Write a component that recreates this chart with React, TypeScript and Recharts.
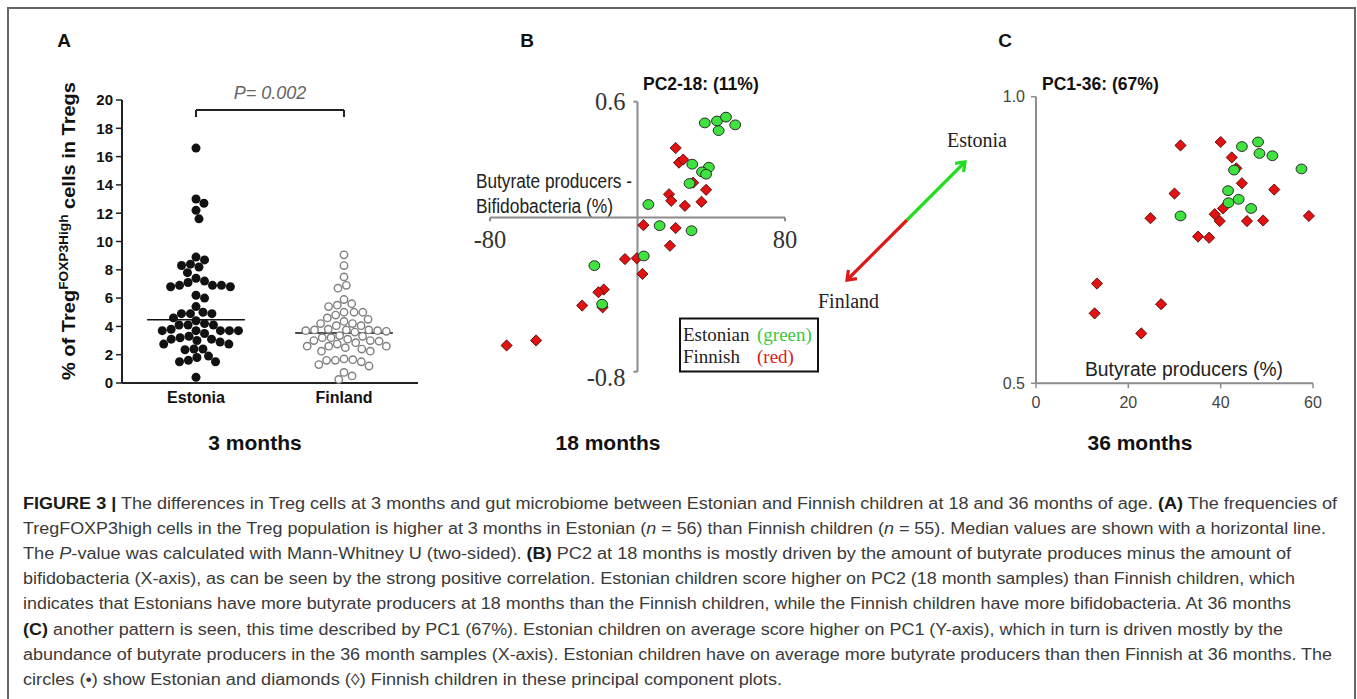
import { ScatterChart, Scatter, XAxis, YAxis, ReferenceLine, ReferenceDot } from "recharts";

// A: % of Treg FOXP3high cells at 3 months
const groups3m = ["Estonia", "Finland"];
const estonia3m = [16.6, 13.0, 12.7, 12.2, 11.6, 8.9, 8.7, 8.4, 8.3, 8.2, 7.8, 7.4, 7.2, 7.1, 6.9, 6.9, 6.9, 6.8, 6.8, 6.2, 6.0, 5.4, 5.0, 4.9, 4.9, 4.9, 4.6, 4.4, 4.2, 4.1, 4.1, 4.1, 3.8, 3.7, 3.7, 3.7, 3.7, 3.7, 3.5, 3.3, 3.2, 3.1, 3.1, 3.0, 2.9, 2.75, 2.75, 2.4, 2.4, 2.35, 1.9, 1.8, 1.6, 1.5, 1.5, 0.4];
const finland3m = [9.06, 8.3, 7.5, 6.9, 6.7, 5.9, 5.6, 5.5, 5.4, 5.0, 5.0, 5.0, 4.8, 4.6, 4.5, 4.35, 4.2, 4.2, 4.05, 4.05, 3.8, 3.75, 3.75, 3.75, 3.7, 3.7, 3.65, 3.6, 3.35, 3.3, 3.2, 3.2, 3.1, 3.0, 3.0, 2.95, 2.85, 2.75, 2.6, 2.6, 2.6, 2.5, 2.4, 2.25, 2.25, 1.7, 1.65, 1.6, 1.6, 1.5, 1.3, 1.2, 0.75, 0.5, 0.25];
const medians3m = [4.47, 3.53];
const ticks3m = [0, 2, 4, 6, 8, 10, 12, 14, 16, 18, 20];
const pValue = "P= 0.002";

// B: PC2 at 18 months vs butyrate producers - bifidobacteria (%)
const est18 = [[36.5, 0.49], [43.1, 0.5], [48, 0.52], [44, 0.45], [53, 0.48], [29.7, 0.276], [38.7, 0.26], [35, 0.236], [37.2, 0.224], [28.2, 0.176], [5.9, 0.067], [12, -0.043], [29.3, -0.069], [3.4, -0.2], [-23.4, -0.25], [-19.2, -0.45]];
const fin18 = [[20.7, 0.36], [22.5, 0.284], [24.8, 0.3], [30.2, 0.18], [37.2, 0.143], [17.1, 0.12], [18.3, 0.086], [25.7, 0.06], [34.7, 0.081], [3.2, -0.04], [20.7, -0.055], [17.6, -0.147], [-6.8, -0.216], [-0.4, -0.212], [2.7, -0.293], [-18.3, -0.374], [-21.2, -0.388], [-18.9, -0.466], [-30, -0.457], [-55, -0.638], [-71, -0.664]];

// C: PC1 at 36 months vs butyrate producers (%)
const est36 = [[48.1, 0.921], [44.6, 0.913], [48.4, 0.901], [51.2, 0.897], [42.9, 0.872], [57.5, 0.874], [41.6, 0.836], [43.9, 0.821], [41.7, 0.815], [46.6, 0.805], [31.3, 0.792]];
const fin36 = [[40, 0.921], [31.3, 0.915], [42.4, 0.894], [43.4, 0.875], [44.6, 0.849], [51.6, 0.838], [30, 0.831], [40.5, 0.805], [38.7, 0.795], [24.8, 0.788], [39.8, 0.783], [45.7, 0.783], [49.2, 0.784], [59.1, 0.792], [35.1, 0.756], [37.5, 0.754], [13.2, 0.674], [27.1, 0.638], [12.7, 0.622], [22.8, 0.587]];
const xTicks36 = [0, 20, 40, 60];
const yTicks36 = [0.5, 1.0];

const caption: [string, string][][] = [
  [["b", "FIGURE 3 |"], ["", " The differences in Treg cells at 3 months and gut microbiome between Estonian and Finnish children at 18 and 36 months of age. "], ["b", "(A)"], ["", " The frequencies of"]],
  [["", "TregFOXP3high cells in the Treg population is higher at 3 months in Estonian ("], ["i", "n"], ["", " = 56) than Finnish children ("], ["i", "n"], ["", " = 55). Median values are shown with a horizontal line."]],
  [["", "The "], ["i", "P"], ["", "-value was calculated with Mann-Whitney U (two-sided). "], ["b", "(B)"], ["", " PC2 at 18 months is mostly driven by the amount of butyrate produces minus the amount of"]],
  [["", "bifidobacteria (X-axis), as can be seen by the strong positive correlation. Estonian children score higher on PC2 (18 month samples) than Finnish children, which"]],
  [["", "indicates that Estonians have more butyrate producers at 18 months than the Finnish children, while the Finnish children have more bifidobacteria. At 36 months"]],
  [["b", "(C)"], ["", " another pattern is seen, this time described by PC1 (67%). Estonian children on average score higher on PC1 (Y-axis), which in turn is driven mostly by the"]],
  [["", "abundance of butyrate producers in the 36 month samples (X-axis). Estonian children have on average more butyrate producers than then Finnish at 36 months. The"]],
  [["", "circles (\u2022) show Estonian and diamonds (\u25CA) Finnish children in these principal component plots."]],
];
const captionEnds = [1337, 1326, 1291, 1295, 1291, 1283, 1332, 782];

const SANS = "'Liberation Sans', Arial, sans-serif";
const SERIF = "'Liberation Serif', 'Times New Roman', serif";

// simple beeswarm: offsets in x data units
function swarm(values: number[], pxPerX: number, pxPerY: number, diam: number) {
  const placed: { x: number; y: number }[] = [];
  const out: number[] = new Array(values.length).fill(0);
  const order = values.map((_, i) => i).sort((a, b) => values[b] - values[a]);
  for (const i of order) {
    const y = values[i] * pxPerY;
    const near = placed.filter((p) => Math.abs(p.y - y) < diam);
    const cands = [0];
    near.forEach((p) => {
      const dx = Math.sqrt(diam * diam - (p.y - y) ** 2);
      cands.push(p.x + dx, p.x - dx);
    });
    cands.sort((a, b) => Math.abs(a) - Math.abs(b));
    const x = cands.find((c) => near.every((p) => (p.x - c) ** 2 + (p.y - y) ** 2 >= diam * diam - 0.01)) ?? 0;
    placed.push({ x, y });
    out[i] = x / pxPerX;
  }
  return out;
}

const pxX = 296 / 2;
const pxY = 283 / 20;
const estOff = swarm(estonia3m, pxX, pxY, 9);
const finOff = swarm(finland3m, pxX, pxY, 8.8);
const estData3 = estonia3m.map((v, i) => ({ x: 1 + estOff[i], y: v }));
const finData3 = finland3m.map((v, i) => ({ x: 2 + finOff[i], y: v }));
const toXY = (a: number[][]) => a.map(([x, y]) => ({ x, y }));

const blackDot = (p: any) => <circle cx={p.cx} cy={p.cy} r={4.5} fill="#111" />;
const openDot = (p: any) => <circle cx={p.cx} cy={p.cy} r={3.7} fill="#fff" stroke="#808080" strokeWidth={1.4} />;
const greenDot = (p: any) => <ellipse cx={p.cx} cy={p.cy} rx={5.4} ry={4.9} fill="#3fe23f" stroke="#2b2b2b" strokeWidth={1} />;
const redDiamond = (p: any) => {
  const s = 5.6;
  return <polygon points={`${p.cx},${p.cy - s} ${p.cx + s},${p.cy} ${p.cx},${p.cy + s} ${p.cx - s},${p.cy}`} fill="#e21212" stroke="#3a0000" strokeWidth={0.8} />;
};

const tickLabel = (text: string, dx: number, dy: number, anchor: string) => ({
  content: ({ viewBox }: any) => (
    <text x={viewBox.x + dx} y={viewBox.y + dy} textAnchor={anchor} dominantBaseline="central" fontFamily={SERIF} fontSize={24.5} fill="#333">
      {text}
    </text>
  ),
});

const axisGray = "#8c8c8c";

function PanelA() {
  return (
    <ScatterChart width={440} height={420} margin={{ top: 100, right: 22, bottom: 7, left: 82 }}>
      <XAxis type="number" dataKey="x" domain={[0.5, 2.5]} ticks={[1, 2]} tickFormatter={(v) => groups3m[v - 1]} tickLine={false} tickSize={6} tickMargin={3}
        axisLine={{ stroke: "#222", strokeWidth: 2 }} tick={{ fontSize: 16, fontWeight: 700, fill: "#111", fontFamily: SANS }} height={30} />
      <YAxis type="number" dataKey="y" domain={[0, 20]} ticks={ticks3m} interval={0} width={40} tickSize={6} tickMargin={3}
        axisLine={{ stroke: "#222", strokeWidth: 2 }} tickLine={{ stroke: "#222", strokeWidth: 1.5 }} tick={{ fontSize: 15, fontWeight: 700, fill: "#111", fontFamily: SANS }} />
      <Scatter data={estData3} shape={blackDot} isAnimationActive={false} />
      <Scatter data={finData3} shape={openDot} isAnimationActive={false} />
      {medians3m.map((m, i) => (
        <ReferenceLine key={i} segment={[{ x: i + 1 - 0.33, y: m }, { x: i + 1 + 0.33, y: m }]} stroke="#111" strokeWidth={1.5} />
      ))}
      <ReferenceLine segment={[{ x: 1, y: 19.3 }, { x: 2, y: 19.3 }]} stroke="#222" strokeWidth={2} />
      <ReferenceLine segment={[{ x: 1, y: 18.8 }, { x: 1, y: 19.3 }]} stroke="#222" strokeWidth={2} />
      <ReferenceLine segment={[{ x: 2, y: 18.8 }, { x: 2, y: 19.3 }]} stroke="#222" strokeWidth={2} />
      <ReferenceDot x={1.5} y={19.3} r={0} fill="none" stroke="none"
        label={{
          content: ({ viewBox }: any) => (
            <text x={viewBox.x} y={viewBox.y - 11} textAnchor="middle" fontFamily={SANS} fontStyle="italic" fontSize={18} fill="#666">{pValue}</text>
          ),
        }} />
    </ScatterChart>
  );
}

function PanelB() {
  return (
    <ScatterChart width={380} height={340} margin={{ top: 41.7, right: 35, bottom: 28.3, left: 50 }}>
      <XAxis type="number" dataKey="x" domain={[-80, 80]} hide height={0} />
      <YAxis type="number" dataKey="y" domain={[-0.8, 0.6]} hide width={0} />
      <ReferenceLine segment={[{ x: -80, y: 0 }, { x: 80, y: 0 }]} stroke={axisGray} strokeWidth={2} />
      <ReferenceLine segment={[{ x: 0, y: -0.8 }, { x: 0, y: 0.6 }]} stroke={axisGray} strokeWidth={2} />
      <ReferenceLine segment={[{ x: -80, y: 0 }, { x: -80, y: -0.02 }]} stroke={axisGray} strokeWidth={2} />
      <ReferenceLine segment={[{ x: 80, y: 0 }, { x: 80, y: -0.02 }]} stroke={axisGray} strokeWidth={2} />
      <ReferenceLine segment={[{ x: 0, y: 0.6 }, { x: -2.2, y: 0.6 }]} stroke={axisGray} strokeWidth={2} />
      <ReferenceLine segment={[{ x: 0, y: -0.8 }, { x: -2.2, y: -0.8 }]} stroke={axisGray} strokeWidth={2} />
      <ReferenceDot x={-80} y={0} r={0} fill="none" stroke="none" label={tickLabel("-80", 0, 22, "middle")} />
      <ReferenceDot x={80} y={0} r={0} fill="none" stroke="none" label={tickLabel("80", 0, 22, "middle")} />
      <ReferenceDot x={0} y={0.6} r={0} fill="none" stroke="none" label={tickLabel("0.6", -12, 0, "end")} />
      <ReferenceDot x={0} y={-0.8} r={0} fill="none" stroke="none" label={tickLabel("-0.8", -12, 6, "end")} />
      <Scatter data={toXY(fin18)} shape={redDiamond} isAnimationActive={false} />
      <Scatter data={toXY(est18)} shape={greenDot} isAnimationActive={false} />
    </ScatterChart>
  );
}

function PanelC() {
  const tickStyle = { fontSize: 16, fill: "#444", fontFamily: SANS };
  return (
    <ScatterChart width={380} height={360} margin={{ top: 36.7, right: 27, bottom: 6.7, left: 16 }}>
      <XAxis type="number" dataKey="x" domain={[0, 60]} ticks={xTicks36} interval={0} height={30} tickSize={5} tickMargin={8}
        axisLine={{ stroke: axisGray, strokeWidth: 2 }} tickLine={{ stroke: axisGray, strokeWidth: 1.5 }} tick={tickStyle} />
      <YAxis type="number" dataKey="y" domain={[0.5, 1]} ticks={yTicks36} interval={0} width={60} tickSize={5} tickMargin={6}
        tickFormatter={(v) => v.toFixed(1)} axisLine={{ stroke: axisGray, strokeWidth: 2 }} tickLine={{ stroke: axisGray, strokeWidth: 1.5 }} tick={tickStyle} />
      <Scatter data={toXY(fin36)} shape={redDiamond} isAnimationActive={false} />
      <Scatter data={toXY(est36)} shape={greenDot} isAnimationActive={false} />
    </ScatterChart>
  );
}

function Chevron({ tip, dir, color }: { tip: [number, number]; dir: [number, number]; color: string }) {
  const [tx, ty] = tip;
  const [dx, dy] = dir;
  const bx = tx - dx * 8, by = ty - dy * 8;
  const px = -dy * 6, py = dx * 6;
  return <polyline points={`${bx + px},${by + py} ${tx},${ty} ${bx - px},${by - py}`} fill="none" stroke={color} strokeWidth={3.2} strokeLinejoin="miter" />;
}

function Overlay() {
  const s = Math.SQRT1_2;
  return (
    <svg width={1357} height={699} style={{ position: "absolute", left: 0, top: 0 }}>
      <path d="M8,699 V8 H1355 V699" fill="none" stroke="#666" strokeWidth={2} />
      {/* panel letters and subtitles */}
      <g fontFamily={SANS} fontWeight={700} fill="#111">
        <text x={64} y={47} fontSize={19} textAnchor="middle">A</text>
        <text x={527} y={47} fontSize={19} textAnchor="middle">B</text>
        <text x={1005} y={47} fontSize={19} textAnchor="middle">C</text>
        <text x={255} y={450} fontSize={21} textAnchor="middle">3 months</text>
        <text x={608} y={450} fontSize={21} textAnchor="middle">18 months</text>
        <text x={1140} y={450} fontSize={21} textAnchor="middle">36 months</text>
        <text x={643} y={90} fontSize={17.5}>PC2-18: (11%)</text>
        <text x={1042} y={90} fontSize={17.5}>PC1-36: (67%)</text>
      </g>
      {/* A: y label */}
      <text transform="translate(75,231) rotate(-90)" textAnchor="middle" fontFamily={SANS} fontWeight={700} fontSize={19} fill="#111"
        textLength={298} lengthAdjust="spacingAndGlyphs">
        % of Treg<tspan dy={-7} fontSize={13}>FOXP3High</tspan><tspan dy={7}> cells in Tregs</tspan>
      </text>
      {/* axis descriptions */}
      <g fontFamily={SANS} fontSize={20} fill="#222">
        <text x={476} y={188} textLength={156} lengthAdjust="spacingAndGlyphs">Butyrate producers -</text>
        <text x={476} y={212.5} textLength={137} lengthAdjust="spacingAndGlyphs">Bifidobacteria (%)</text>
        <text x={1085} y={376} fontSize={19.5} textLength={198} lengthAdjust="spacingAndGlyphs">Butyrate producers (%)</text>
      </g>
      {/* legend box */}
      <rect x={680} y={318.5} width={138} height={53} fill="#fff" stroke="#111" strokeWidth={2} />
      <g fontFamily={SERIF} fontSize={19} style={{ whiteSpace: "pre" }}>
        <text x={683} y={341} fill="#222">Estonian</text>
        <text x={757} y={341} fill="#3cc83c">(green)</text>
        <text x={683} y={363} fill="#222">Finnish</text>
        <text x={757} y={363} fill="#d82020">(red)</text>
      </g>
      {/* direction arrows */}
      <line x1={907} y1={220} x2={965} y2={162} stroke="#22dd22" strokeWidth={3.2} />
      <Chevron tip={[965, 162]} dir={[s, -s]} color="#22dd22" />
      <line x1={907} y1={220} x2={847} y2={280} stroke="#e01818" strokeWidth={3.2} />
      <Chevron tip={[847, 280]} dir={[-s, s]} color="#e01818" />
      <text x={947} y={147} fontFamily={SERIF} fontSize={20} fill="#222">Estonia</text>
      <text x={818} y={308} fontFamily={SERIF} fontSize={20} fill="#222">Finland</text>
      {/* caption */}
      <g fontFamily={SANS} fontSize={16} fill="#3a3a3a" style={{ whiteSpace: "pre" }}>
        {caption.map((line, i) => (
          <text key={i} x={23} y={509 + i * 25.1} textLength={captionEnds[i] - 23} lengthAdjust="spacingAndGlyphs">
            {line.map(([k, t], j) => (
              <tspan key={j} fontWeight={k === "b" ? 700 : 400} fontStyle={k === "i" ? "italic" : "normal"} fill={k === "b" ? "#1a1a1a" : undefined}>{t}</tspan>
            ))}
          </text>
        ))}
      </g>
    </svg>
  );
}

export default function App() {
  return (
    <div style={{ position: "absolute", left: 0, top: 0, width: 1357, height: 699, background: "#fff", overflow: "hidden" }}>
      <Overlay />
      <div style={{ position: "absolute", left: 0, top: 0 }}><PanelA /></div>
      <div style={{ position: "absolute", left: 440, top: 60 }}><PanelB /></div>
      <div style={{ position: "absolute", left: 960, top: 60 }}><PanelC /></div>
    </div>
  );
}
